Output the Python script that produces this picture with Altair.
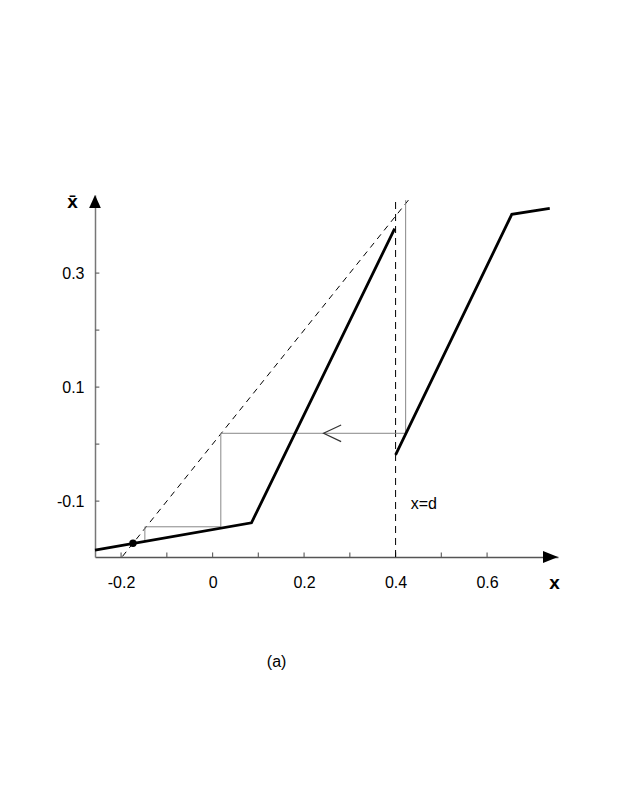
import altair as alt
import pandas as pd

# ---- data ----
X_MIN, X_MAX = -0.257, 0.755
Y_MIN, Y_MAX = -0.198, 0.437

# thick piecewise map (two branches)
left_x = [-0.257, 0.085, 0.398]
left_y = [-0.186, -0.138, 0.378]
right_x = [0.400, 0.654, 0.737]
right_y = [-0.019, 0.403, 0.4135]

# identity (dashed diagonal)
diag_x = [-0.197, 0.428]
diag_y = [-0.197, 0.428]

# discontinuity x = d
d_x = [0.4, 0.4]
d_y = [Y_MIN, 0.432]

# cobweb path (thin grey)
web_x = [0.422, 0.422, 0.018, 0.018, -0.148, -0.148]
web_y = [0.428, 0.019, 0.019, -0.145, -0.145, -0.171]

# open arrowhead on the horizontal cobweb line
head_x = [0.281, 0.2426, 0.281]
head_y = [0.0336, 0.019, 0.0044]

# fixed point
fix_x = [-0.174]
fix_y = [-0.174]

# ticks and labels
x_ticks = [-0.2, -0.1, 0.0, 0.1, 0.2, 0.3, 0.4, 0.5, 0.6]
x_labels = [-0.2, 0, 0.2, 0.4, 0.6]
y_ticks = [-0.1, 0.0, 0.1, 0.2, 0.3]
y_labels = [-0.1, 0.1, 0.3]
x_tick_len = 0.008   # in y-data units
y_tick_len = 0.0095  # in x-data units

# annotations
ann_text = ["x=d"]
ann_x = [0.433]
ann_y = [-0.105]
axis_titles = ["x", "x\u0304"]
axis_title_x = [0.7475, -0.306]
axis_title_y = [-0.244, 0.425]
caption = ["(a)"]
caption_x = [0.14]
caption_y = [-0.382]

FONT = "Liberation Sans"
xs = alt.Scale(domain=[X_MIN, X_MAX], nice=False, zero=False)
ys = alt.Scale(domain=[Y_MIN, Y_MAX], nice=False, zero=False)
label_expr = "datum.value == 0 ? '0' : toString(datum.value)"

X_AXIS = alt.Axis(values=x_labels, ticks=False, grid=False, title=None,
                  domainColor="#555", domainWidth=1.5,
                  labelFont=FONT, labelFontSize=16, labelColor="black",
                  labelPadding=17, labelExpr=label_expr, labelFlush=False)
Y_AXIS = alt.Axis(values=y_labels, ticks=False, grid=False, title=None,
                  domainColor="#777", domainWidth=1.5,
                  labelFont=FONT, labelFontSize=16, labelColor="black",
                  labelPadding=11, labelExpr=label_expr, labelFlush=False)


def path_df(xv, yv):
    return pd.DataFrame({"x": xv, "y": yv, "o": list(range(len(xv)))})


def X():
    return alt.X("x:Q", scale=xs, axis=X_AXIS, title=None)


def Y():
    return alt.Y("y:Q", scale=ys, axis=Y_AXIS, title=None)


xt = pd.DataFrame({"x": x_ticks, "y": [Y_MIN] * len(x_ticks),
                   "y2": [Y_MIN + x_tick_len] * len(x_ticks)})
x_tick_layer = alt.Chart(xt).mark_rule(color="#666", strokeWidth=1.2).encode(
    x=X(), y=Y(), y2="y2:Q")

yt = pd.DataFrame({"y": y_ticks, "x": [X_MIN] * len(y_ticks),
                   "x2": [X_MIN + y_tick_len] * len(y_ticks)})
y_tick_layer = alt.Chart(yt).mark_rule(color="#666", strokeWidth=1.2).encode(
    y=Y(), x=X(), x2="x2:Q")

diag = alt.Chart(path_df(diag_x, diag_y)).mark_line(
    color="black", strokeWidth=1, strokeDash=[6, 5]).encode(x=X(), y=Y(), order="o:Q")
dline = alt.Chart(path_df(d_x, d_y)).mark_line(
    color="black", strokeWidth=1, strokeDash=[7, 5]).encode(x=X(), y=Y(), order="o:Q")
web = alt.Chart(path_df(web_x, web_y)).mark_line(
    color="#888", strokeWidth=1).encode(x=X(), y=Y(), order="o:Q")
head = alt.Chart(path_df(head_x, head_y)).mark_line(
    color="#333", strokeWidth=1.2).encode(x=X(), y=Y(), order="o:Q")
left = alt.Chart(path_df(left_x, left_y)).mark_line(
    color="black", strokeWidth=2.8, strokeJoin="miter").encode(x=X(), y=Y(), order="o:Q")
right = alt.Chart(path_df(right_x, right_y)).mark_line(
    color="black", strokeWidth=2.8, strokeJoin="miter").encode(x=X(), y=Y(), order="o:Q")
fixed = alt.Chart(path_df(fix_x, fix_y)).mark_point(
    filled=True, color="black", size=55, opacity=1).encode(x=X(), y=Y())

# axis arrowheads
xarrow = alt.Chart(pd.DataFrame({"x": [X_MAX], "y": [Y_MIN]})).mark_point(
    shape="M-1,-0.8L1,0L-1,0.8Z", filled=True, color="black", opacity=1,
    size=225, xOffset=-7.5).encode(x=X(), y=Y())
yarrow = alt.Chart(pd.DataFrame({"x": [X_MIN], "y": [Y_MAX]})).mark_point(
    shape="M-0.9,1L0,-1L0.9,1Z", filled=True, color="black", opacity=1,
    size=169, yOffset=6.5).encode(x=X(), y=Y())

ann = alt.Chart(pd.DataFrame({"x": ann_x, "y": ann_y, "t": ann_text})).mark_text(
    font=FONT, fontSize=16, align="left", baseline="middle", color="black").encode(
    x=X(), y=Y(), text="t:N")
titles = alt.Chart(pd.DataFrame({"x": axis_title_x, "y": axis_title_y, "t": axis_titles})).mark_text(
    font=FONT, fontSize=19, fontWeight="bold", align="center", baseline="middle",
    color="black").encode(x=X(), y=Y(), text="t:N")
cap = alt.Chart(pd.DataFrame({"x": caption_x, "y": caption_y, "t": caption})).mark_text(
    font=FONT, fontSize=16, align="center", baseline="middle", color="black").encode(
    x=X(), y=Y(), text="t:N")

chart = alt.layer(
    x_tick_layer, y_tick_layer, diag, dline, web, head, left, right, fixed,
    xarrow, yarrow, ann, titles, cap
).properties(
    width=463, height=362,
    autosize=alt.AutoSizeParams(type="none"),
    padding={"left": 87, "top": 187, "right": 50, "bottom": 200},
).configure_view(stroke=None)

chart.save("out.html", embed_options={"renderer": "svg", "actions": False})
